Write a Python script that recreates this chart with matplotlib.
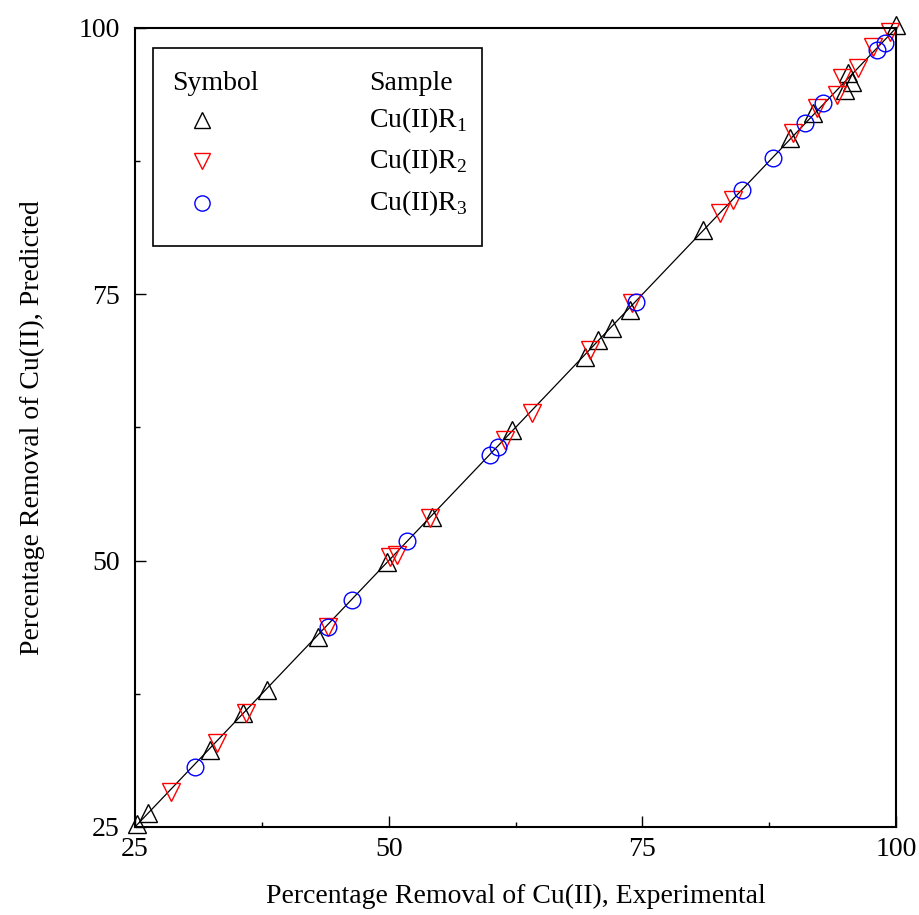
import numpy as np
import matplotlib.pyplot as plt
from matplotlib.patches import Rectangle
from matplotlib.ticker import MultipleLocator

plt.rcParams['font.family'] = ['Liberation Serif', 'DejaVu Serif']
plt.rcParams['mathtext.fontset'] = 'custom'
plt.rcParams['mathtext.rm'] = 'Liberation Serif'

# Cu(II)R1 - experimental vs predicted
r1_exp = [25.2, 26.3, 32.4, 35.6, 38.0, 43.0, 49.8, 54.3, 62.2, 69.3, 70.6, 72.0,
          73.8, 81.0, 89.5, 91.8, 95.0, 95.7, 95.3, 100.0]
r1_pred = [25.3, 26.3, 32.2, 35.7, 37.9, 42.8, 49.9, 54.1, 62.3, 69.1, 70.7, 71.8,
           73.5, 81.0, 89.7, 92.0, 94.2, 94.9, 95.8, 100.3]

# Cu(II)R2
r2_exp = [28.6, 33.1, 35.9, 44.0, 50.1, 50.8, 54.1, 61.5, 64.1, 69.8, 74.0, 82.6,
          83.9, 89.8, 92.2, 94.2, 94.7, 96.2, 97.7, 99.4]
r2_pred = [28.3, 32.9, 35.7, 43.8, 50.3, 50.5, 54.0, 61.3, 63.9, 69.8, 74.2, 82.6,
           83.9, 90.1, 92.5, 93.7, 95.3, 96.2, 98.2, 99.6]

# Cu(II)R3
r3_exp = [30.9, 44.0, 46.4, 51.8, 60.0, 60.8, 74.4, 84.8, 87.9, 91.0, 92.8, 98.1, 98.9]
r3_pred = [30.6, 43.8, 46.3, 51.8, 59.9, 60.7, 74.3, 84.8, 87.8, 91.1, 93.0, 97.9, 98.6]

line_x = [25, 100]

fig = plt.figure(figsize=(9.2, 9.15), dpi=100)
ax = fig.add_axes([0.1467, 0.0962, 0.8273, 0.8732])

ax.plot(line_x, line_x, color='black', lw=0.9, zorder=1)
ax.plot(r1_exp, r1_pred, '^', ms=13, mfc='none', mec='black', mew=1.0, clip_on=False)
ax.plot(r2_exp, r2_pred, 'v', ms=13, mfc='none', mec='red', mew=1.0, clip_on=False)
ax.plot(r3_exp, r3_pred, 'o', ms=12, mfc='none', mec='blue', mew=1.0, clip_on=False)

ax.set_xlim(25, 100)
ax.set_ylim(25, 100)
ax.xaxis.set_major_locator(MultipleLocator(25))
ax.yaxis.set_major_locator(MultipleLocator(25))
ax.xaxis.set_minor_locator(MultipleLocator(12.5))
ax.yaxis.set_minor_locator(MultipleLocator(12.5))
ax.tick_params(which='both', direction='in', top=False, right=False, labelsize=20)
ax.tick_params(which='major', length=8, width=1.0)
ax.tick_params(which='minor', length=3.5, width=1.0)
ax.tick_params(axis='x', which='major', pad=7)
ax.tick_params(axis='y', which='major', pad=11)
for s in ax.spines.values():
    s.set_linewidth(1.5)

ax.set_xlabel('Percentage Removal of Cu(II), Experimental', fontsize=20, labelpad=16)
ax.set_ylabel('Percentage Removal of Cu(II), Predicted', fontsize=20, labelpad=24)

# legend box drawn by hand
ax.add_patch(Rectangle((0.024, 0.727), 0.432, 0.248, transform=ax.transAxes,
                       fill=False, ec='black', lw=1.2, zorder=5))
ax.text(0.049, 0.931, 'Symbol', transform=ax.transAxes, fontsize=20, va='center')
ax.text(0.307, 0.931, 'Sample', transform=ax.transAxes, fontsize=20, va='center')
leg_marks = ['^', 'v', 'o']
leg_colors = ['black', 'red', 'blue']
leg_labels = [r'Cu(II)R$_1$', r'Cu(II)R$_2$', r'Cu(II)R$_3$']
leg_y = [0.885, 0.834, 0.781]
for m, c, lab, yy in zip(leg_marks, leg_colors, leg_labels, leg_y):
    ax.plot([0.088], [yy], m, ms=11, mfc='none', mec=c, mew=1.0, transform=ax.transAxes)
    ax.text(0.307, yy, lab, transform=ax.transAxes, fontsize=20, va='center')

fig.savefig('out.png', dpi=100)
